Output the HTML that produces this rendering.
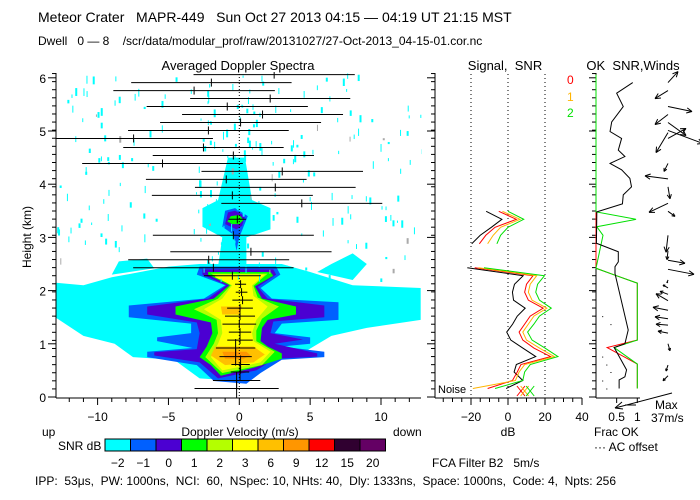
<!DOCTYPE html>
<html><head><meta charset="utf-8"><style>
html,body{margin:0;padding:0;background:#fff}
svg{display:block;font-family:"Liberation Sans",sans-serif}
text{fill:#000;white-space:pre}
</style></head><body>
<svg id="chart" width="700" height="500" viewBox="0 0 700 500" xmlns="http://www.w3.org/2000/svg">
<rect width="700" height="500" fill="#fff"/>
<defs><clipPath id="mainClip"><rect x="56" y="72" width="366" height="326"/></clipPath></defs>
<text x="38" y="22" font-size="14" xml:space="preserve">Meteor Crater   MAPR-449   Sun Oct 27 2013 04:15 — 04:19 UT 21:15 MST</text>
<text x="38" y="45" font-size="12" xml:space="preserve">Dwell   0 — 8    /scr/data/modular_prof/raw/20131027/27-Oct-2013_04-15-01.cor.nc</text>
<text x="238" y="70" font-size="13" text-anchor="middle">Averaged Doppler Spectra</text>
<text x="505" y="70" font-size="13" text-anchor="middle" xml:space="preserve">Signal,  SNR</text>
<text x="633" y="70" font-size="13" text-anchor="middle" xml:space="preserve">OK  SNR,Winds</text>
<text x="567" y="84" font-size="12" style="fill:#ff0000">0</text>
<text x="567" y="101" font-size="12" style="fill:#ffb400">1</text>
<text x="567" y="117" font-size="12" style="fill:#00e000">2</text>
<text x="31" y="237" font-size="12" text-anchor="middle" transform="rotate(-90 31 237)">Height (km)</text>
<g id="heat" clip-path="url(#mainClip)"></g>
<g id="specks" clip-path="url(#mainClip)"></g>
<g id="bars" clip-path="url(#mainClip)"></g>
<g id="axes"></g>
<g id="signal"></g>
<g id="winds"></g>
<text x="42" y="436" font-size="12">up</text>
<text x="240" y="436" font-size="12" text-anchor="middle">Doppler Velocity (m/s)</text>
<text x="393" y="436" font-size="12">down</text>
<text x="508" y="436" font-size="12" text-anchor="middle">dB</text>
<text x="594" y="436" font-size="12">Frac OK</text>
<text x="594" y="451" font-size="12">··· AC offset</text>
<text x="655" y="409" font-size="12">Max</text>
<text x="651" y="422" font-size="12">37m/s</text>
<text x="58" y="450" font-size="12">SNR dB</text>
<g id="cbar"></g>
<text x="432" y="467" font-size="12" xml:space="preserve">FCA Filter B2   5m/s</text>
<text x="35" y="485" font-size="12" xml:space="preserve">IPP:  53μs,  PW: 1000ns,  NCI:  60,  NSpec: 10, NHts: 40,  Dly: 1333ns,  Space: 1000ns,  Code: 4,  Npts: 256</text>
</svg>
<script>
// ---- data ----
const barHeights = [0.16,0.31,0.47,0.61,0.76,0.92,1.07,1.22,1.37,1.52,1.67,1.82,1.97,2.12,2.28,2.43,2.58,2.73,3.04,3.34,3.64,3.79,3.94,4.09,4.24,4.39,4.54,4.69,4.86,5.01,5.16,5.31,5.46,5.61,5.76,5.91,6.06];
const barCenters = [-0.19,-0.19,0.05,0.09,-0.26,-0.26,0.05,0.05,0.0,0.05,0.05,0.23,0.16,0.09,-0.49,-1.83,-2.16,0.82,-0.42,-0.14,4.41,-0.49,2.54,-0.92,3.03,-5.42,-0.42,-2.53,-7.46,-2.18,0.09,1.64,-0.85,2.18,-3.19,-1.97,2.46];
const barWidths = [2.97,1.67,0.65,0.65,1.14,1.39,0.9,0.79,1.19,1.06,0.91,0.72,0.41,0.39,2.01,5.66,5.68,5.69,5.68,0.62,5.68,5.68,5.67,5.67,5.7,5.67,5.69,5.66,5.6,5.67,5.68,5.68,5.69,5.65,5.7,5.66,5.69];

const sigHeights = [0.16,0.31,0.47,0.61,0.76,0.92,1.07,1.22,1.37,1.52,1.67,1.82,1.97,2.12,2.28,2.43];
const sigBlack  = [-1,8,3.3,4.5,15,8,1.5,-0.7,2.5,5,9.3,3,2.4,3.5,8.2,-22];
const sigRed    = [-11,2.4,5,7,23,14,8,6,9,12,19,11,9,10,13.5,-18];
const sigOrange = [-19,4,6,9,25,17,10,8,11,14,21,13,11,12,15.5,-16];
const sigGreen  = [-7,8,9,12,27,20,13,10.6,14,17,23.4,17,15,16,19.7,-13];
const upHeights = [2.88,3.04,3.19,3.34,3.49];
const upBlack  = [-19.6,-15,-9,-3.3,-11.8];
const upRed    = [-15.5,-12,-7,4.5,-5];
const upOrange = [-11,-8,-4,6.5,-3];
const upGreen  = [-6,-4,0,8.5,0];

const okHeights = [5.91,5.71,5.46,5.17,4.99,4.86,4.64,4.52,4.39,4.27,4.11,3.95,3.80,3.63,3.48,2.89,2.73,2.54,2.45,2.32,1.26,1.0,0.93,0.51,0.38,0.32,0.16];
const okBlack = [0.89,0.50,0.66,0.38,0.34,0.62,0.54,0.70,0.34,0.62,0.82,0.86,0.66,0.64,0.02,0.01,0.54,0.54,0.46,0.46,0.78,0.70,0.44,0.74,0.70,0.56,0.56];
const fracHeights = [6.06,3.48,3.34,3.2,3.04,2.42,2.29,2.14,1.07,0.93,0.62,0.16];
const fracGreen = [0,0,0.97,0.02,0.17,0,0.46,1,1,0.44,1,1];
const fracRed = [0,0,0,0,0,0,0.46,1,1,0.27,1,1];

const windHeights = [5.91,5.76,5.46,5.31,5.16,5.01,4.97,4.86,4.39,4.10,3.95,3.64,3.49,3.04,2.75,2.57,2.40,2.20,2.05,1.93,1.81,1.63,1.47,1.35,1.20,1.00,0.60,0.40];
const windU = [10,-13,24,-13,18,35,-12,18,-4,-23,2,-19,7,-2,-1,17,26,-1,-5,-8,-12,-15,-13,-12,-10,2,-2,-5];
const windV = [11,-8,-5,-10,-13,-13,-20,10,-8,3,-12,-9,-5,-17,-9,-3,-5,-3,3,3,7,3,2,1,2,-7,-6,-5];

const cbLabels = ["-2","-1","0","1","2","3","6","9","12","15","20"];
const cbColors = ["#00ffff","#0060ff","#4b00d2","#00ff00","#b4ff00","#ffff00","#ffc000","#ff9600","#ff0000","#300030","#640064"];

// heatmap contour regions [velocity, height]
const cyanMain = [[-13,2.15],[-11,2.1],[-9,2.25],[-5,2.45],[-2.8,2.5],[3,2.5],[5,2.35],[8,2.1],[12.8,2.05],[12.8,1.45],[9,1.3],[6.5,1.15],[4.3,0.8],[2,0.65],[0,0.3],[-2.8,0.35],[-4.6,0.7],[-7.5,0.75],[-8.8,1.0],[-11,1.15],[-13,1.5]];
const cyanTop = [[-2.6,3.2],[-2.6,3.55],[-1.5,3.7],[-0.8,4.5],[0.4,4.5],[0.9,3.7],[2.2,3.55],[2.2,3.15],[0.5,3.0],[0.5,2.45],[-1.5,2.45],[-1.2,3.0]];
const cyanRight = [[5.5,2.35],[8,2.2],[9,2.5],[8,2.7],[6.5,2.5]];
const cyanLeft = [[-9,2.3],[-6,2.42],[-6.5,2.6],[-8.5,2.55]];
const bluePoly = [[-2.8,2.45],[2.6,2.45],[2.9,2.3],[1.5,2.05],[2.3,1.85],[7,1.78],[7,1.45],[3,1.38],[2.5,1.2],[5,1.12],[5,1.0],[3,0.95],[6,0.85],[6,0.75],[3,0.7],[1.5,0.45],[0.5,0.25],[-1.8,0.3],[-3,0.6],[-6.5,0.75],[-6.5,0.85],[-3.3,0.92],[-5.8,1.05],[-5.8,1.12],[-3.4,1.2],[-3.4,1.38],[-7.8,1.5],[-7.8,1.72],[-2.5,1.85],[-1.0,2.1],[-3,2.3]];
const purplePoly = [[-2.6,2.4],[2.4,2.4],[2.6,2.3],[1.3,2.07],[2.0,1.85],[6,1.72],[6,1.5],[2.4,1.42],[2.2,1.2],[4.5,1.08],[2.5,1.0],[5.5,0.82],[5.5,0.76],[2.5,0.72],[1.2,0.5],[-1.5,0.35],[-2.8,0.65],[-6,0.78],[-6,0.84],[-3,0.9],[-2.8,1.2],[-3,1.4],[-6.5,1.55],[-6.5,1.7],[-2.2,1.85],[-0.9,2.1],[-2.6,2.3]];
const greenPoly = [[-2.2,2.35],[2.2,2.35],[2.4,2.28],[1.1,2.08],[1.6,1.85],[4,1.7],[4,1.55],[2,1.45],[1.6,1.3],[1.5,1.05],[2,0.95],[3,0.82],[3,0.72],[1,0.55],[-1.3,0.4],[-2,0.6],[-2.8,0.75],[-2.3,0.95],[-1.9,1.2],[-2,1.4],[-4.5,1.55],[-4.5,1.7],[-1.8,1.85],[-0.7,2.1],[-2.2,2.3]];
const ygPoly = [[-2.0,2.32],[2.0,2.32],[1.0,2.09],[1.3,1.87],[2.8,1.7],[1.6,1.47],[1.2,1.25],[1.2,1.05],[2.5,0.85],[1.6,0.6],[-1.2,0.45],[-2.4,0.75],[-1.8,1.0],[-1.5,1.2],[-1.6,1.45],[-3.2,1.65],[-1.5,1.85],[-0.6,2.1]];
const yellowPoly = [[-1.7,2.3],[1.8,2.3],[0.9,2.1],[1.0,1.9],[2.0,1.7],[1.2,1.45],[0.9,1.2],[1.0,1.05],[2.2,0.85],[1.5,0.65],[-1.2,0.5],[-2.0,0.75],[-1.5,1.0],[-1.2,1.2],[-1.3,1.45],[-2.5,1.65],[-1.2,1.85],[-0.5,2.1],[-1.7,2.25]];
const goldPoly = [[-1.7,0.95],[1.0,0.95],[1.8,0.8],[1.0,0.65],[-1.0,0.6],[-2.0,0.78]];
const goldPoly2 = [[-1.3,1.7],[0.2,1.7],[0,1.55],[-1.2,1.55]];
const orangePoly = [[-1.2,0.85],[0.5,0.85],[0.8,0.78],[0.3,0.72],[-1.0,0.72]];
const topBlue = [[-1.2,3.2],[-1.0,3.5],[-0.3,3.55],[0.6,3.4],[0.3,3.2],[0,3.0],[-0.2,2.75],[-0.4,3.05]];
const topPurple = [[-1.0,3.25],[-0.8,3.47],[-0.3,3.5],[0.4,3.4],[0.2,3.22],[-0.2,3.15]];
const topGreen = [[-0.85,3.3],[-0.6,3.4],[0,3.42],[0.3,3.33],[0,3.25],[-0.5,3.25]];

// ---- scales ----
const NS="http://www.w3.org/2000/svg";
const xv = v => 239.3 + v*14.17;
const yh = h => 397 - h*53.2;
const sx = d => 508 + d*1.85;
const wx = f => 596 + f*41.3;
function mk(tag, attrs, parent){const e=document.createElementNS(NS,tag);for(const k in attrs)e.setAttribute(k,attrs[k]);parent.appendChild(e);return e;}
const $ = id => document.getElementById(id);

// heatmap
const heat=$('heat');
function poly(pts,color,name){
  const p=mk('polygon',{points:pts.map(q=>xv(q[0])+','+yh(q[1])).join(' '),fill:color},heat);
  
  
}
poly(cyanMain,'#00ffff','snr-region-cyan');
poly(cyanTop,'#00ffff','snr-region-cyan-upper');
poly(cyanRight,'#00ffff','snr-region-cyan-right');
poly(cyanLeft,'#00ffff','snr-region-cyan-left');
poly(bluePoly,'#0060ff','snr-region-blue');
poly(purplePoly,'#4b00d2','snr-region-purple');
poly(greenPoly,'#00ff00','snr-region-green');
poly(ygPoly,'#b4ff00','snr-region-yellowgreen');
poly(yellowPoly,'#ffff00','snr-region-yellow');
poly(goldPoly,'#ffc000','snr-region-gold');
poly(goldPoly2,'#ffc000','snr-region-gold-upper');
poly(orangePoly,'#ff9600','snr-region-orange');
poly(topBlue,'#0060ff','snr-region-top-blue');
poly(topPurple,'#4b00d2','snr-region-top-purple');
poly(topGreen,'#00ff00','snr-region-top-green');

// noise specks (texture, not data)
const sp=$('specks'); let seed=12345;
function rnd(){seed=(seed*1103515245+12345)%2147483648;return seed/2147483648;}
for(let i=0;i<260;i++){
  let v=-13+rnd()*26, h=2.2+rnd()*3.9;
  if(rnd()<0.3){v=-3+rnd()*6;}
  const e=mk('rect',{x:xv(v),y:yh(h),width:1+Math.floor(rnd()*1.8),height:2+rnd()*6,fill:rnd()<0.03?'#aaa':'#00ffff'},sp);
  
  
}

// bars
const bars=$('bars');
mk('line',{x1:xv(0),y1:74,x2:xv(0),y2:398,stroke:'#000','stroke-width':1,'stroke-dasharray':'1,2'},bars);
barHeights.forEach((h,i)=>{
  const c=barCenters[i], w=barWidths[i], y=yh(h);
  const l=mk('line',{x1:xv(c-w),y1:y,x2:xv(c+w),y2:y,stroke:'#000','stroke-width':1},bars);
  
  
  const t=h<1?9:4;
  const m=mk('line',{x1:xv(c),y1:y-t,x2:xv(c),y2:y+t,stroke:'#000','stroke-width':1},bars);
  
  
});

// axes
const ax=$('axes');
const L=(x1,y1,x2,y2,g,extra)=>mk('line',Object.assign({x1,y1,x2,y2,stroke:'#000','stroke-width':1},extra||{}),g||ax);
L(56,73,56,398); L(56,398,421,398);
for(let k=0;k<=40;k++){const y=yh(k*0.152);if(y<73)break;L(52,y,56,y);L(431,y,435,y);L(592,y,596,y);}
for(let h=0;h<=6;h++){L(48,yh(h),56,yh(h));L(427,yh(h),435,yh(h));L(589,yh(h),596,yh(h));
  const t=mk('text',{x:46,y:yh(h)+5,'font-size':12,'text-anchor':'end'},ax);t.textContent=h;
  }
for(let v=-12;v<=12;v++){const big=v%5===0;L(xv(v),398,xv(v),big?405:402);}
[-10,-5,0,5,10].forEach(v=>{const t=mk('text',{x:xv(v),y:421,'font-size':12,'text-anchor':'middle'},ax);t.textContent=v<0?'−'+(-v):v;
  });

// signal panel
const sg=$('signal');
L(435,73,435,398,sg); L(435,398,582,398,sg);
[-20,0,20].forEach(d=>L(sx(d),74,sx(d),398,sg,{'stroke-dasharray':'1,3'}));
for(let d=-35;d<=40;d+=5){L(sx(d),398,sx(d),d%20===0?405:402,sg);}
[-20,0,20,40].forEach(d=>{const t=mk('text',{x:sx(d),y:421,'font-size':12,'text-anchor':'middle'},sg);t.textContent=d<0?'−'+(-d):d;
  });
function sline(hs,vals,color,name){
  const p=mk('polyline',{points:hs.map((h,i)=>sx(vals[i])+','+yh(h)).join(' '),fill:'none',stroke:color,'stroke-width':1},sg);
  
  
}
sline(sigHeights,sigBlack,'#000','signal-line');
sline(sigHeights,sigRed,'#ff0000','snr-line-0');
sline(sigHeights,sigOrange,'#ffb400','snr-line-1');
sline(sigHeights,sigGreen,'#00e000','snr-line-2');
sline(upHeights,upBlack,'#000','signal-line-upper');
sline(upHeights,upRed,'#ff0000','snr-line-0-upper');
sline(upHeights,upOrange,'#ffb400','snr-line-1-upper');
sline(upHeights,upGreen,'#00e000','snr-line-2-upper');
const nt=mk('text',{x:438,y:393,'font-size':11},sg);nt.textContent='Noise';

[[7,'#ff0000'],[9,'#ffb400'],[12,'#00e000']].forEach(a=>{const x=sx(a[0]),y=391;L(x-4,y-5,x+4,y+5,sg,{stroke:a[1]});L(x-4,y+5,x+4,y-5,sg,{stroke:a[1]});});

// winds panel
const wg=$('winds');
L(596,73,596,398,wg); L(596,398,640,398,wg);
[0.5,1].forEach(f=>L(wx(f),398,wx(f),403,wg));
[['0.5',0.5],['1',1]].forEach(a=>{const t=mk('text',{x:wx(a[1]),y:421,'font-size':12,'text-anchor':'middle'},wg);t.textContent=a[0];
  });
function wline(hs,vals,color,name){
  const p=mk('polyline',{points:hs.map((h,i)=>wx(vals[i])+','+yh(h)).join(' '),fill:'none',stroke:color,'stroke-width':1},wg);
  
  
}
wline(fracHeights,fracRed,'#ff0000','frac-ok-line-0');
wline(fracHeights,fracGreen,'#00e000','frac-ok-line-2');
wline(okHeights,okBlack,'#000','ok-snr-line');
[0.76,0.61,0.47,0.31,0.16,1.37,1.52].forEach((h,i)=>mk('rect',{x:wx(0.15+0.1*(i%3)),y:yh(h),width:1,height:1,fill:'#000'},wg));
windHeights.forEach((h,i)=>{
  const x0=668,y0=yh(h),x1=x0+windU[i],y1=y0-windV[i];
  const g=mk('g',{},wg);
  
  
  L(x0,y0,x1,y1,g);
  const a=Math.atan2(y1-y0,x1-x0),len=Math.hypot(x1-x0,y1-y0),hl=Math.min(6,len*0.4);
  [0.45,-0.45].forEach(d=>L(x1,y1,x1-hl*Math.cos(a+d),y1-hl*Math.sin(a+d),g));
});
(function(){const g=mk('g',{},wg);
  L(672,393,615,408,g);L(615,408,622,402,g);L(615,408,623,409,g);L(625,405,636,405,g);})();

// colorbar
const cb=$('cbar');
cbColors.forEach((c,i)=>{
  const r=mk('rect',{x:105+i*25.5,y:439,width:25.5,height:12,fill:c,stroke:'#000','stroke-width':1},cb);
  
  
  const t=mk('text',{x:105+i*25.5+12.7,y:467,'font-size':12,'text-anchor':'middle'},cb);
  t.textContent=cbLabels[i].replace('-','−');
  
  
});
</script>
</body></html>
